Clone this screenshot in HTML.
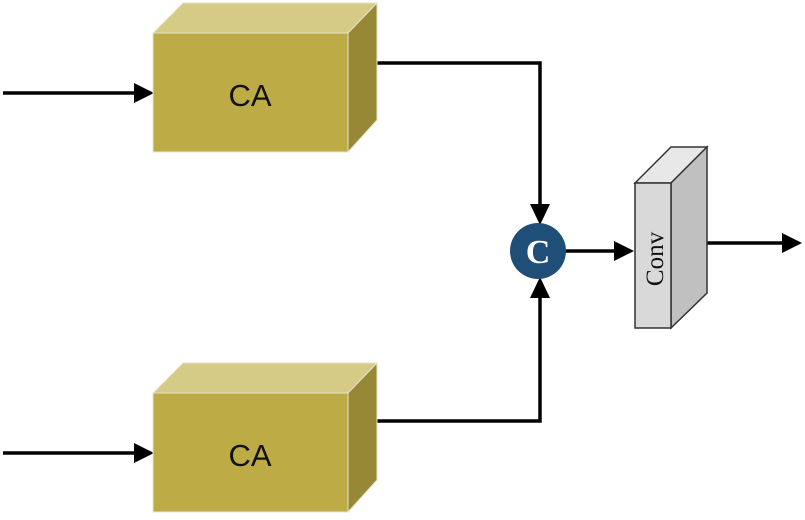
<!DOCTYPE html>
<html><head><style>body{margin:0;background:#fff}</style></head><body>
<svg width="805" height="515" viewBox="0 0 805 515" xmlns="http://www.w3.org/2000/svg">
<g stroke="#000" stroke-width="3.5" fill="none">
<line x1="3" y1="93" x2="135" y2="93"/>
<line x1="3" y1="453" x2="135" y2="453"/>
<polyline points="377,63 540,63 540,205"/>
<polyline points="377,421 540,421 540,297"/>
<line x1="565" y1="251" x2="616" y2="251"/>
<line x1="707" y1="243" x2="782" y2="243"/>
</g>
<g fill="#000">
<polygon points="154,93 134,83 134,103"/>
<polygon points="154,453 134,443 134,463"/>
<polygon points="540,225 530,204 550,204"/>
<polygon points="540,277 530,298 550,298"/>
<polygon points="634,251 614,241 614,261"/>
<polygon points="802,243 782,233 782,253"/>
</g>
<g stroke="#e8e4cc" stroke-width="1">
<polygon points="153,33 183,3 377,3 348,33" fill="#d5ca86"/>
<polygon points="348,33 377,3 377,120 348,152" fill="#968834"/>
<rect x="153" y="33" width="195" height="119" fill="#bdab45"/>
<polygon points="153,393 183,363 377,363 348,393" fill="#d5ca86"/>
<polygon points="348,393 377,363 377,480 348,512" fill="#968834"/>
<rect x="153" y="393" width="195" height="119" fill="#bdab45"/>
</g>
<g font-family="Liberation Sans, DejaVu Sans, sans-serif" font-size="31" text-anchor="middle" fill="#111">
<text x="250" y="106">CA</text>
<text x="250" y="466">CA</text>
</g>
<g stroke="#333" stroke-width="1.5">
<polygon points="635,183 671,147 707,147 671,183" fill="#e8e8e8"/>
<polygon points="671,183 707,147 707,293 671,328" fill="#c0c0c0"/>
<rect x="635" y="183" width="36" height="145" fill="#d9d9d9"/>
</g>
<text transform="translate(663,259) rotate(-90)" font-family="Liberation Serif, serif" font-size="25" text-anchor="middle" fill="#111">Conv</text>
<circle cx="538" cy="251" r="28" fill="#1f4e79"/>
<text x="538" y="263" font-family="Liberation Serif, serif" font-weight="bold" font-size="34" text-anchor="middle" fill="#fff">C</text>
</svg>
</body></html>
